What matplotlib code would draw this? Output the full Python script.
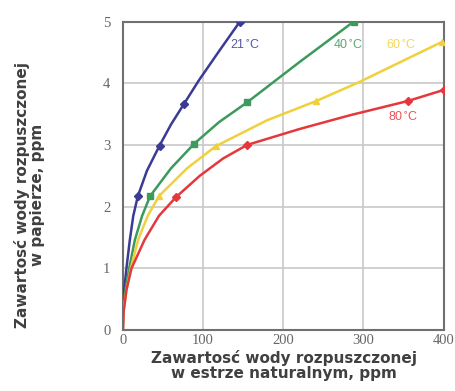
import matplotlib
matplotlib.use("Agg")
import matplotlib.pyplot as plt

# curve points (ppm in oil, ppm in paper)
x_21 = [0, 0.3, 1.6, 4.5, 8.7, 13, 18.7, 30, 45.8, 60, 76.5, 95, 120, 146]
y_21 = [0, 0.3, 0.65, 1.0, 1.46, 1.85, 2.17, 2.58, 2.99, 3.33, 3.67, 4.05, 4.52, 5.0]
x_40 = [0, 0.5, 3.3, 7.9, 15, 24, 34, 60, 89, 120, 155, 220, 288]
y_40 = [0, 0.3, 0.65, 1.0, 1.46, 1.85, 2.17, 2.62, 3.02, 3.37, 3.69, 4.34, 5.0]
x_60 = [0, 0.8, 4.5, 10, 19, 31, 45, 80, 116, 180, 241, 295, 398]
y_60 = [0, 0.3, 0.65, 1.0, 1.46, 1.85, 2.17, 2.62, 2.98, 3.40, 3.71, 4.02, 4.67]
x_80 = [0, 1, 4.5, 10.8, 27, 45, 66, 96, 125, 155, 221, 283, 355, 400]
y_80 = [0, 0.3, 0.65, 1.0, 1.46, 1.85, 2.15, 2.50, 2.78, 3.0, 3.26, 3.48, 3.71, 3.89]

# marked measurement points
mx_21 = [18.7, 45.8, 76.5, 146]
my_21 = [2.17, 2.99, 3.67, 5.0]
mx_40 = [34, 89, 155, 288]
my_40 = [2.17, 3.02, 3.69, 5.0]
mx_60 = [45, 116, 241, 398]
my_60 = [2.17, 2.98, 3.71, 4.67]
mx_80 = [66, 155, 355, 400]
my_80 = [2.15, 3.0, 3.71, 3.89]

labels = ["21$^{\\circ}$C", "40$^{\\circ}$C", "60$^{\\circ}$C", "80$^{\\circ}$C"]
label_x = [153, 281, 347, 350]
label_y = [4.62, 4.62, 4.62, 3.44]

x_ticks = [0, 100, 200, 300, 400]
y_ticks = [0, 1, 2, 3, 4, 5]

colors = ["#3b3b94", "#3c9a5c", "#f0d03c", "#e5383c"]
markers = ["D", "s", "^", "D"]

fig = plt.figure(figsize=(4.55, 3.91), dpi=100)
ax = fig.add_axes([0.270, 0.156, 0.705, 0.789])

curves = [(x_21, y_21, mx_21, my_21), (x_40, y_40, mx_40, my_40),
          (x_60, y_60, mx_60, my_60), (x_80, y_80, mx_80, my_80)]
for (cx, cy, px, py), c, m in zip(curves, colors, markers):
    ax.plot(cx, cy, color=c, lw=1.8, zorder=3)
    ax.plot(px, py, ls="none", marker=m, ms=4.5, color=c, zorder=4)

for t, lx, ly, c in zip(labels, label_x, label_y, colors):
    ax.text(lx, ly, t, color=c, fontsize=9, ha="center", va="center",
            family="Liberation Sans", alpha=0.85)

ax.set_xlim(0, 400)
ax.set_ylim(0, 5)
ax.set_xticks(x_ticks)
ax.set_yticks(y_ticks)
ax.grid(True, color="#c8c8c8", lw=1.2)
ax.set_axisbelow(True)
for s in ax.spines.values():
    s.set_color("#707070")
    s.set_linewidth(1.5)
ax.tick_params(length=0, labelsize=10.5, labelcolor="#666666")
ax.tick_params(axis="x", pad=3)
ax.tick_params(axis="y", pad=9)
for lab in ax.get_xticklabels() + ax.get_yticklabels():
    lab.set_family("Liberation Serif")

fig.text(0.624, 0.064, "Zawartosć wody rozpuszczonej\nw estrze naturalnym, ppm",
         fontsize=11, fontweight="bold", color="#404040", family="DejaVu Sans",
         ha="center", va="center", multialignment="center", linespacing=1.0)
fig.text(0.064, 0.501, "Zawartosć wody rozpuszczonej\nw papierze, ppm",
         fontsize=11, fontweight="bold", color="#404040", family="DejaVu Sans",
         ha="center", va="center", multialignment="center", linespacing=1.0,
         rotation=90)

fig.savefig("out.png", dpi=100)
